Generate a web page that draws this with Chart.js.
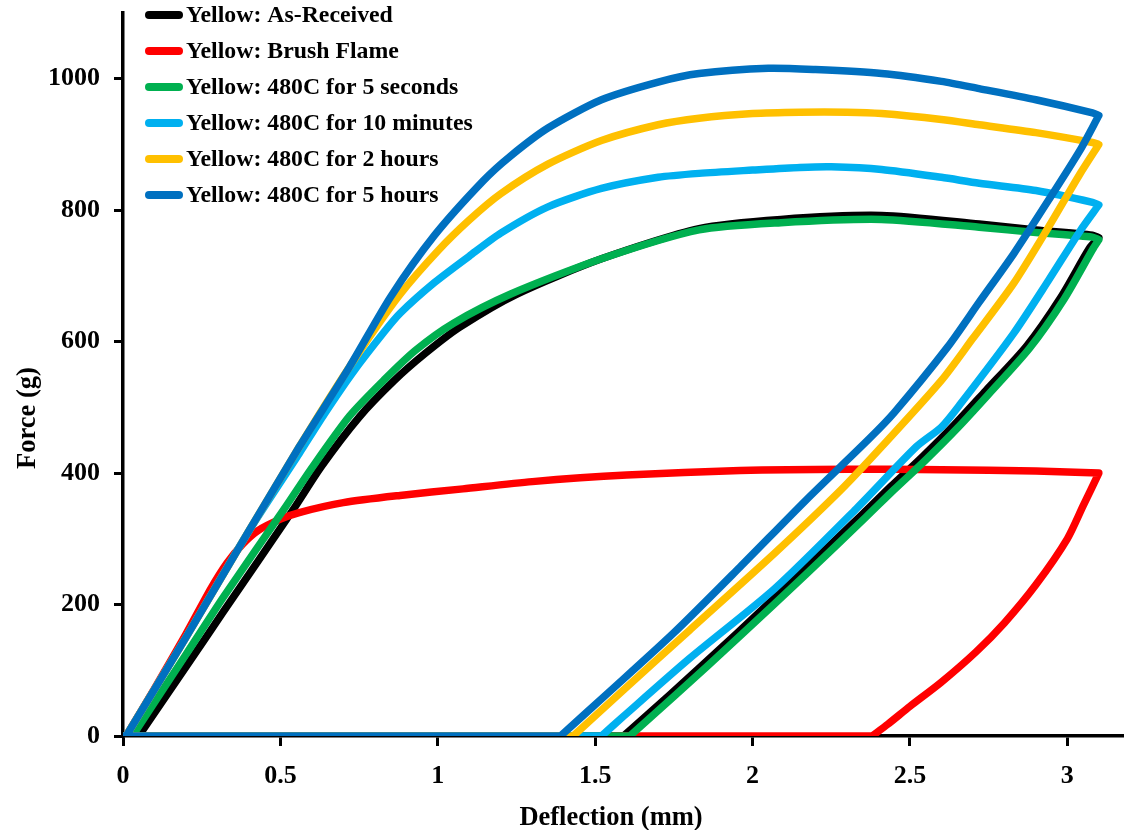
<!DOCTYPE html>
<html>
<head>
<meta charset="utf-8">
<script src="https://cdn.jsdelivr.net/npm/chart.js@4.4.1/dist/chart.umd.min.js"></script>
<style>
  body { margin: 0; background: #fff; }
  #wrap { width: 1124px; height: 830px; }
</style>
</head>
<body>
<div id="wrap"><canvas id="myChart" width="1124" height="830"></canvas></div>
<script>
// series names + colours
var seriesNames = ["Yellow: As-Received", "Yellow: Brush Flame", "Yellow: 480C for 5 seconds",
    "Yellow: 480C for 10 minutes", "Yellow: 480C for 2 hours", "Yellow: 480C for 5 hours"];
var seriesColors = ['#000000', '#FF0000', '#00B050', '#00B0F0', '#FFC000', '#0070C0'];

// deflection (mm) / force (g), loading -> unloading -> back along zero
var asReceivedX = [0.05, 0.20, 0.32, 0.54, 0.63, 0.75, 0.86, 0.96, 1.07, 1.25, 1.52, 1.83, 2.09, 2.41, 2.72, 2.90, 3.08, 3.10,
    3.07, 2.98, 2.87, 2.74, 2.64, 2.54, 2.44, 2.35, 2.16, 1.95, 1.74, 1.59, 0];
var asReceivedY = [0, 105, 190, 344, 410, 485, 540, 582, 622, 672, 726, 772, 786, 792, 779, 770, 762, 758,
    742, 668, 593, 525, 473, 425, 380, 338, 251, 156, 64, 0, 0];

var brushX = [0.01, 0.10, 0.20, 0.28, 0.33, 0.38, 0.43, 0.50, 0.56, 0.70, 0.88, 1.08, 1.30, 1.60, 1.96, 2.30, 2.60, 2.90, 3.10,
    3.05, 3.00, 2.90, 2.80, 2.71, 2.60, 2.50, 2.43, 2.38, 0];
var brushY = [0, 72, 155, 225, 263, 292, 313, 330, 340, 355, 366, 376, 387, 397, 404, 406, 405, 403, 400,
    350, 300, 230, 172, 128, 82, 45, 18, 0, 0];

var sec5X = [0.03, 0.20, 0.32, 0.51, 0.60, 0.72, 0.83, 0.93, 1.05, 1.23, 1.52, 1.83, 2.09, 2.41, 2.72, 2.90, 3.08, 3.10,
    3.08, 2.99, 2.88, 2.75, 2.65, 2.55, 2.45, 2.36, 2.17, 1.96, 1.75, 1.61, 0];
var sec5Y = [0, 124, 212, 344, 408, 487, 542, 587, 628, 672, 726, 770, 781, 786, 774, 766, 759, 755,
    740, 665, 590, 520, 468, 420, 375, 333, 246, 152, 60, 0, 0];

var min10X = [0.01, 0.20, 0.40, 0.56, 0.64, 0.73, 0.83, 0.88, 0.99, 1.10, 1.20, 1.35, 1.52, 1.70, 1.83, 2.00, 2.15, 2.25, 2.41, 2.60, 2.72, 2.90, 3.08, 3.10,
    3.04, 2.94, 2.83, 2.66, 2.60, 2.52, 2.33, 2.07, 1.80, 1.59, 1.52, 0];
var min10Y = [0, 150, 312, 430, 490, 553, 615, 643, 690, 730, 765, 805, 833, 850, 856, 861, 865, 866, 862, 850, 841, 830, 812, 808,
    768, 693, 613, 505, 470, 440, 346, 224, 118, 30, 0, 0];

var hr2X = [0.01, 0.20, 0.40, 0.56, 0.67, 0.78, 0.88, 1.00, 1.10, 1.20, 1.35, 1.52, 1.70, 1.83, 2.00, 2.15, 2.30, 2.41, 2.60, 2.72, 2.90, 3.08, 3.10,
    3.04, 2.94, 2.83, 2.70, 2.60, 2.41, 2.28, 2.07, 1.80, 1.59, 1.43, 0];
var hr2Y = [0, 150, 312, 440, 525, 605, 672, 738, 785, 825, 870, 906, 930, 940, 947, 949, 949, 947, 938, 930, 918, 903, 900,
    855, 774, 689, 605, 541, 440, 374, 278, 161, 70, 0, 0];

var hr5X = [0.01, 0.20, 0.40, 0.56, 0.72, 0.85, 0.99, 1.145, 1.23, 1.35, 1.52, 1.70, 1.83, 2.05, 2.20, 2.41, 2.60, 2.72, 2.90, 3.08, 3.10,
    3.04, 2.94, 2.83, 2.72, 2.62, 2.45, 2.37, 2.17, 1.96, 1.75, 1.54, 1.39, 0];
var hr5Y = [0, 150, 312, 440, 562, 668, 762, 845, 882, 925, 968, 995, 1008, 1016, 1014, 1008, 996, 985, 968, 948, 944,
    891, 815, 734, 660, 592, 492, 452, 359, 257, 157, 65, 0, 0];

// axis ticks + titles
var xTicks = [0, 0.5, 1, 1.5, 2, 2.5, 3];
var yTicks = [0, 200, 400, 600, 800, 1000];
var xTitle = 'Deflection (mm)';
var yTitle = 'Force (g)';

var allX = [asReceivedX, brushX, sec5X, min10X, hr2X, hr5X];
var allY = [asReceivedY, brushY, sec5Y, min10Y, hr2Y, hr5Y];
// blue on top, black at the bottom
var drawOrder = [6, 5, 4, 3, 2, 1];

// builds {x,y} points; the turn at max deflection and the point where
// unloading hits zero get doubled so the smoothed line keeps a sharp corner there
function toPoints(xs, ys) {
    var pts = [];
    var peak = 0;
    for (var i = 1; i < xs.length; i++) {
        if (xs[i] > xs[peak]) peak = i;
    }
    var zeroAt = -1;
    for (var j = peak + 1; j < xs.length; j++) {
        if (ys[j] === 0) { zeroAt = j; break; }
    }
    for (var k = 0; k < xs.length; k++) {
        pts.push({ x: xs[k], y: ys[k] });
        if (k === peak || k === zeroAt) pts.push({ x: xs[k], y: ys[k] });
    }
    return pts;
}

var datasets = [];
for (var i = 0; i < seriesNames.length; i++) {
    datasets.push({
        label: seriesNames[i],
        data: toPoints(allX[i], allY[i]),
        borderColor: seriesColors[i],
        backgroundColor: seriesColors[i],
        borderWidth: 7.5,
        borderJoinStyle: 'round',
        borderCapStyle: 'round',
        pointRadius: 0,
        showLine: true,
        tension: 0.25,
        order: drawOrder[i]
    });
}

var serif = '"Liberation Serif", "Times New Roman", serif';

// legend + axis titles drawn by hand so they sit where the original has them
var extraText = {
    id: 'extraText',
    afterDraw: function(chart) {
        var c = chart.ctx;
        c.save();
        c.font = 'bold 23.8px ' + serif;
        c.textBaseline = 'middle';
        c.textAlign = 'left';
        chart.data.datasets.forEach(function(ds, i) {
            var y = 15 + i * 36;
            c.strokeStyle = ds.borderColor;
            c.lineWidth = 8;
            c.lineCap = 'round';
            c.beginPath();
            c.moveTo(149, y);
            c.lineTo(179, y);
            c.stroke();
            c.fillStyle = '#000';
            c.fillText(ds.label, 186, y + 1);
        });

        c.font = 'bold 26.5px ' + serif;
        c.textAlign = 'center';
        c.fillText(xTitle, 611, 818);
        c.translate(28, 418);
        c.rotate(-Math.PI / 2);
        c.fillText(yTitle, 0, 0);
        c.restore();
    }
};

var ctx = document.getElementById("myChart").getContext('2d');
var forceChart = new Chart(ctx, {
    type: 'scatter',
    data: { datasets: datasets },
    options: {
        responsive: false,
        animation: false,
        layout: { padding: { top: 13, right: 0, bottom: 0, left: 0 } },
        plugins: {
            legend: { display: false },
            tooltip: { enabled: false }
        },
        scales: {
            x: {
                type: 'linear',
                min: 0,
                max: 3.18,
                afterFit: function(scale) { scale.height = 94; },
                afterBuildTicks: function(scale) {
                    scale.ticks = xTicks.map(function(v) { return { value: v }; });
                },
                ticks: {
                    color: '#000',
                    padding: 15,
                    maxRotation: 0,
                    font: { family: serif, size: 26, weight: 'bold' },
                    callback: function(v) { return String(Math.round(v * 10) / 10); }
                },
                grid: { drawOnChartArea: false, color: '#000', lineWidth: 3, tickLength: 10 },
                border: { color: '#000', width: 3.5 }
            },
            y: {
                min: 0,
                max: 1100,
                afterFit: function(scale) {
                    scale.width = 123;
                    scale.paddingTop = 0;
                    scale.paddingBottom = 0;
                },
                afterBuildTicks: function(scale) {
                    scale.ticks = yTicks.map(function(v) { return { value: v }; });
                },
                ticks: {
                    color: '#000',
                    padding: 14,
                    font: { family: serif, size: 26, weight: 'bold' },
                    callback: function(v) { return String(v); }
                },
                grid: { drawOnChartArea: false, color: '#000', lineWidth: 3, tickLength: 9 },
                border: { color: '#000', width: 3.5 }
            }
        }
    },
    plugins: [extraText]
});
</script>
</body>
</html>
